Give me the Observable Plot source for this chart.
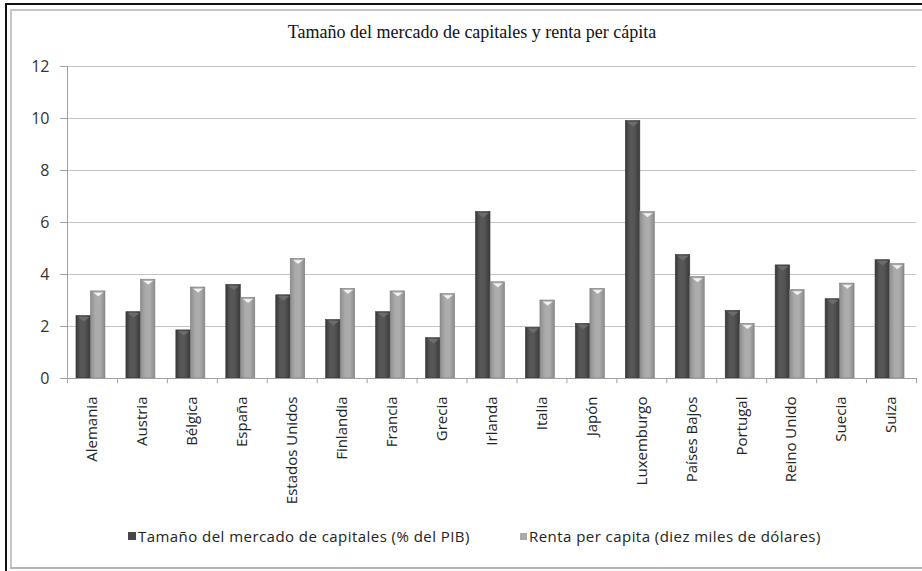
<!DOCTYPE html>
<html>
<head>
<meta charset="utf-8">
<script src="https://cdn.jsdelivr.net/npm/d3@7"></script>
<script src="https://cdn.jsdelivr.net/npm/@observablehq/plot@0.6"></script>
<style>
  html, body { margin: 0; padding: 0; background: #fff; }
  #wrap { position: relative; width: 922px; height: 571px; overflow: hidden; background: #fff; }
  #chart { position: absolute; left: 0; top: 0; }
  .line { position: absolute; }
  #title { position: absolute; left: 0; width: 944px; top: 22px; text-align: center;
           font-family: "Liberation Serif", serif; font-size: 18px; color: #111; }
  #legend { position: absolute; top: 526px; left: 0; width: 922px; height: 22px;
            font-family: "Open Sans", sans-serif; font-size: 15px; letter-spacing: 0.45px; color: #222; }
  .item { position: absolute; top: 0; white-space: nowrap; display: flex; align-items: center; }
  .sw { display: inline-block; margin-right: 2px; }
</style>
</head>
<body>
<div id="wrap">
  <div id="chart"></div>
  <div class="line" style="left:5px;top:3px;width:2px;height:568px;background:#111"></div>
  <div class="line" style="left:5px;top:3px;width:917px;height:2px;background:#111"></div>
  <div class="line" style="left:10px;top:9px;width:2px;height:560px;background:#c6c6c6"></div>
  <div class="line" style="left:10px;top:9px;width:912px;height:2px;background:#c6c6c6"></div>
  <div class="line" style="left:10px;top:567px;width:912px;height:2px;background:#b4b4b4"></div>
  <div id="title">Tamaño del mercado de capitales y renta per cápita</div>
  <div id="legend">
    <div class="item" style="left:128px"><span class="sw" style="width:8px;height:8px;background:#474747"></span><span>Tamaño del mercado de capitales (% del PIB)</span></div>
    <div class="item" style="left:520px"><span class="sw" style="width:7px;height:7px;background:#a9a9a9"></span><span>Renta per capita (diez miles de dólares)</span></div>
  </div>
</div>
<script>
// Países
const countries = ["Alemania", "Austria", "Bélgica", "España", "Estados Unidos", "Finlandia",
  "Francia", "Grecia", "Irlanda", "Italia", "Japón", "Luxemburgo", "Países Bajos",
  "Portugal", "Reino Unido", "Suecia", "Suiza"];
// Tamaño del mercado de capitales (% del PIB)
const mercado = [2.4, 2.55, 1.85, 3.6, 3.2, 2.25, 2.55, 1.55, 6.4, 1.95, 2.1, 9.9, 4.75, 2.6, 4.35, 3.05, 4.55];
// Renta per cápita (diez miles de dólares)
const renta = [3.35, 3.8, 3.5, 3.1, 4.6, 3.45, 3.35, 3.25, 3.7, 3.0, 3.45, 6.4, 3.9, 2.1, 3.4, 3.65, 4.4];
// Marcas del eje vertical
const yTicks = [0, 2, 4, 6, 8, 10, 12];

const rows = countries.map((c, i) => ({country: c, mercado: mercado[i], renta: renta[i]}));

const W = 922, H = 571;
const mL = 67, mR = 6, mT = 66, mB = 193;
const band = (W - mL - mR) / countries.length;
// bar placement inside each category band
const barW = band * 0.29;
const lead = band * 0.18;
const darkIn = {insetLeft: lead, insetRight: band - lead - barW};
const lightIn = {insetLeft: lead + barW, insetRight: band - lead - 2 * barW};
const darkDx = lead + barW / 2 - band / 2;
const lightDx = lead + 1.5 * barW - band / 2;

// flat downward bevel at the top of each bar
const bevel = {
  draw(ctx) {
    const hw = barW / 2 - 1.5;
    ctx.moveTo(-hw, -2.2);
    ctx.lineTo(hw, -2.2);
    ctx.lineTo(0, 2.4);
    ctx.closePath();
  }
};

function gradients() {
  const defs = d3.create("svg:defs");
  const g1 = defs.append("linearGradient").attr("id", "gDark").attr("x1", 0).attr("x2", 1).attr("y1", 0).attr("y2", 0);
  [[0, "#383838"], [0.3, "#575757"], [0.6, "#565656"], [1, "#3a3a3a"]].forEach(([o, c]) =>
    g1.append("stop").attr("offset", o).attr("stop-color", c));
  const g2 = defs.append("linearGradient").attr("id", "gLight").attr("x1", 0).attr("x2", 1).attr("y1", 0).attr("y2", 0);
  [[0, "#8e8e8e"], [0.35, "#ababab"], [0.65, "#adadad"], [1, "#8a8a8a"]].forEach(([o, c]) =>
    g2.append("stop").attr("offset", o).attr("stop-color", c));
  return defs.node();
}

const chart = Plot.plot({
  width: W,
  height: H,
  marginTop: mT,
  marginBottom: mB,
  marginLeft: mL,
  marginRight: mR,
  style: {fontFamily: "Open Sans, sans-serif", fontSize: "15px", color: "#222", background: "transparent"},
  x: {domain: countries, padding: 0, round: false, label: null},
  y: {domain: [0, 12], label: null},
  marks: [
    gradients,
    Plot.gridY(yTicks.filter(d => d > 0), {stroke: "#c4c4c4", strokeOpacity: 1}),
    Plot.axisY({ticks: yTicks, tickSize: 7, tickPadding: 11, stroke: "#a0a0a0", fill: "#333", fontSize: 16, label: null}),
    Plot.ruleX([0], {x: () => countries[0], dx: -band / 2, y1: 0, y2: 12, stroke: "#a0a0a0"}),
    Plot.axisX({tickSize: 0, tickPadding: 18, tickRotate: -90, fill: "#222", label: null}),
    // separators between categories below the baseline
    Plot.ruleX(countries, {x: d => d, dx: -band / 2, y1: 0, y2: -0.2, stroke: "#a0a0a0"}),
    Plot.ruleX(countries.slice(-1), {x: d => d, dx: band / 2, y1: 0, y2: -0.2, stroke: "#a0a0a0"}),
    Plot.barY(rows, {x: "country", y: "mercado", ...darkIn, fill: "url(#gDark)", stroke: "#333", strokeWidth: 0.6}),
    Plot.barY(rows, {x: "country", y: "renta", ...lightIn, fill: "url(#gLight)", stroke: "#7e7e7e", strokeWidth: 0.6}),
    Plot.dot(rows, {x: "country", y: "mercado", dx: darkDx, dy: 3, symbol: bevel, fill: "#6c6c6c", stroke: "none"}),
    Plot.dot(rows, {x: "country", y: "renta", dx: lightDx, dy: 3, symbol: bevel, fill: "#f2f2f2", stroke: "#9a9a9a", strokeWidth: 0.5}),
    Plot.ruleY([0], {stroke: "#a0a0a0"})
  ]
});
document.getElementById("chart").appendChild(chart);
</script>
</body>
</html>
